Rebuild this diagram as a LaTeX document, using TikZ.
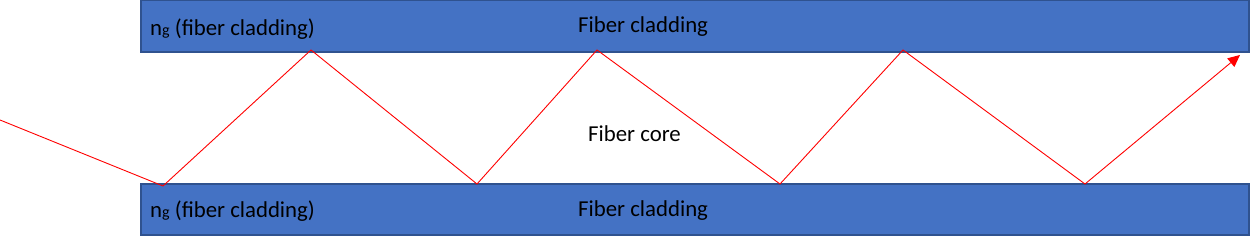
\documentclass[tikz,border=0pt]{standalone}
\usepackage{fontspec}
\setmainfont{Carlito}
\usetikzlibrary{arrows.meta}
\definecolor{clad}{HTML}{4472C4}
\definecolor{cladedge}{HTML}{2F528F}
\definecolor{ray}{HTML}{FF0000}
\tikzset{
  cladding/.style={draw=cladedge, line width=1.5pt, fill=clad},
  lbl/.style={font=\fontsize{22.8}{24}\selectfont, text=black, inner sep=0pt, anchor=west},
  rayline/.style={draw=ray, line width=0.9pt}
}
\newcommand{\ngsub}{n{\fontsize{16}{16}\selectfont\raisebox{-0.5pt}{g}}}
\begin{document}
\begin{tikzpicture}[x=1pt,y=-1pt]
\useasboundingbox (0,0) rectangle (1254,237);
\path[cladding] (141,0) rectangle (1249,52);
\path[cladding] (141,184) rectangle (1249,235);
\node[lbl] (t1) at (150,29) {\ngsub\ (fiber cladding)};
\node[lbl] (t2) at (578,27) {Fiber cladding};
\node[lbl] (b1) at (150,211) {\ngsub\ (fiber cladding)};
\node[lbl] (b2) at (578,211) {Fiber cladding};
\node[lbl] (core) at (588,134) {Fiber core};
\coordinate (p0) at (0,120);
\coordinate (p1) at (163,186);
\coordinate (p2) at (311,50);
\coordinate (p3) at (477,184);
\coordinate (p4) at (597,50);
\coordinate (p5) at (780,184);
\coordinate (p6) at (903,50);
\coordinate (p7) at (1085,184);
\coordinate (p8) at (1240,55);
\draw[rayline, -{Triangle[length=12pt,width=11pt]}] (p0) -- (p1) -- (p2) -- (p3) -- (p4) -- (p5) -- (p6) -- (p7) -- (p8);
\end{tikzpicture}
\end{document}
